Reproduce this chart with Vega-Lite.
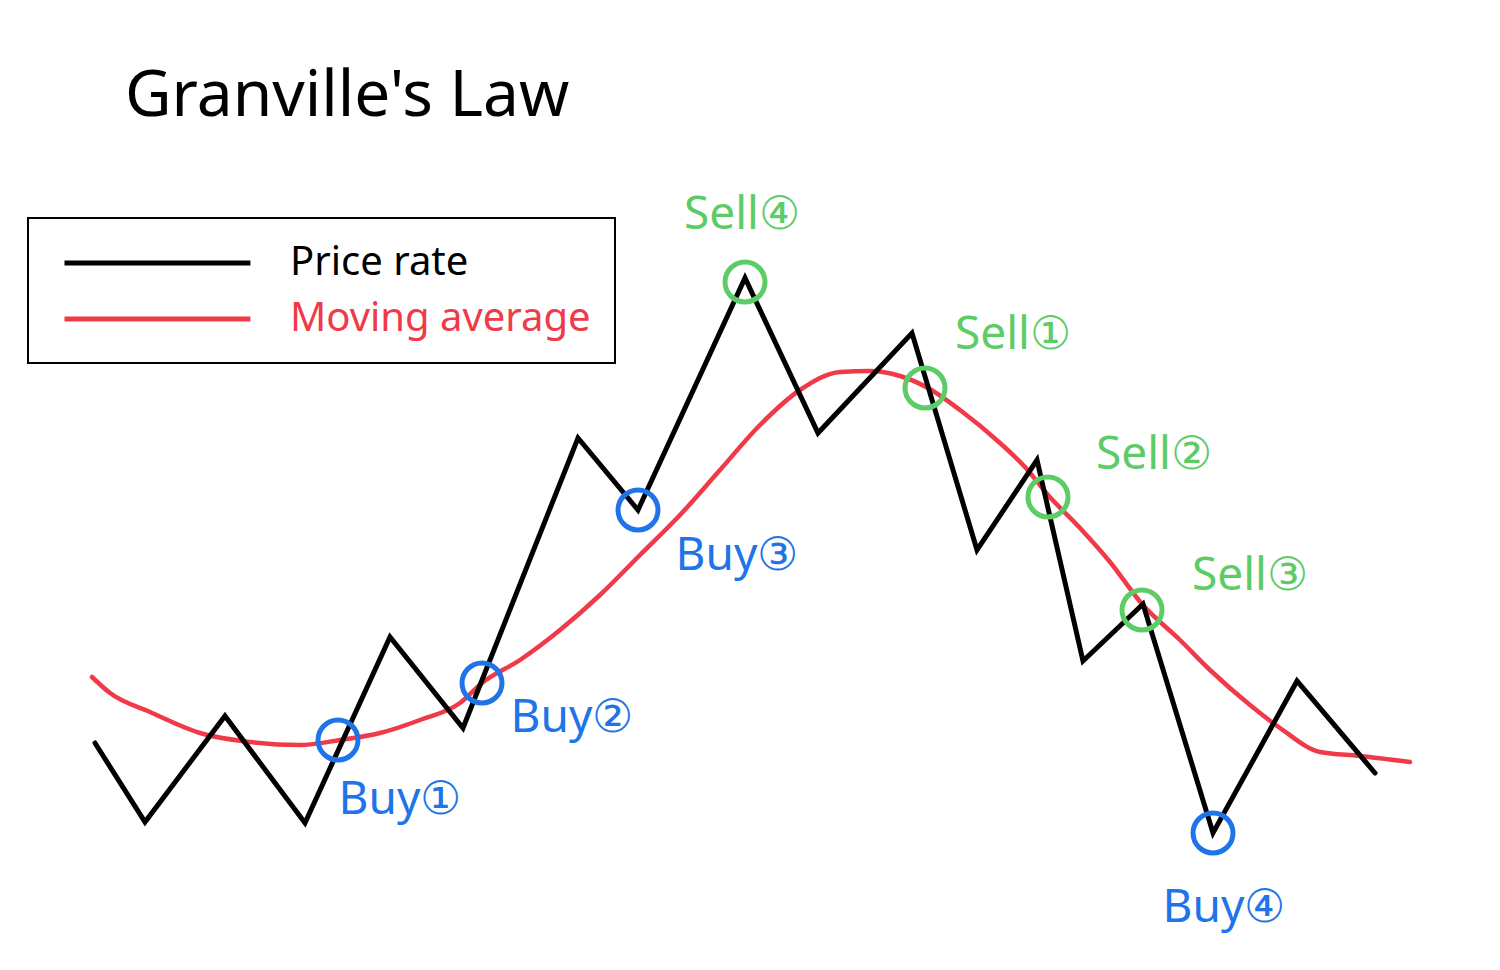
{
  "$schema": "https://vega.github.io/schema/vega-lite/v6.json",
  "width": 1500,
  "height": 970,
  "autosize": {"type": "fit", "contains": "padding"},
  "padding": 0,
  "background": "white",
  "config": {"view": {"stroke": null}},
  "datasets": {
    "price": [
      {"t": 95, "v": 227}, {"t": 145, "v": 148}, {"t": 225, "v": 254}, {"t": 305, "v": 147},
      {"t": 390, "v": 333}, {"t": 463, "v": 242}, {"t": 578, "v": 532}, {"t": 638, "v": 460},
      {"t": 745, "v": 692}, {"t": 818, "v": 537}, {"t": 912, "v": 637}, {"t": 977, "v": 420},
      {"t": 1037, "v": 510}, {"t": 1083, "v": 309}, {"t": 1143, "v": 366}, {"t": 1213, "v": 137},
      {"t": 1297, "v": 289}, {"t": 1375, "v": 197}
    ],
    "ma": [
      {"t": 92, "v": 293}, {"t": 110, "v": 277}, {"t": 150, "v": 258}, {"t": 200, "v": 237},
      {"t": 250, "v": 228}, {"t": 300, "v": 225}, {"t": 340, "v": 230}, {"t": 380, "v": 237},
      {"t": 420, "v": 250}, {"t": 460, "v": 267}, {"t": 482, "v": 287}, {"t": 520, "v": 310},
      {"t": 560, "v": 340}, {"t": 600, "v": 375}, {"t": 640, "v": 415}, {"t": 680, "v": 455},
      {"t": 720, "v": 500}, {"t": 760, "v": 545}, {"t": 800, "v": 580}, {"t": 840, "v": 598},
      {"t": 870, "v": 599}, {"t": 900, "v": 594}, {"t": 928, "v": 582}, {"t": 960, "v": 560},
      {"t": 1000, "v": 527}, {"t": 1025, "v": 503}, {"t": 1048, "v": 475}, {"t": 1080, "v": 442},
      {"t": 1110, "v": 408}, {"t": 1142, "v": 366}, {"t": 1180, "v": 330}, {"t": 1210, "v": 300},
      {"t": 1250, "v": 265}, {"t": 1280, "v": 242}, {"t": 1320, "v": 218}, {"t": 1360, "v": 214},
      {"t": 1410, "v": 208}
    ],
    "signals": [
      {"t": 338, "v": 230, "kind": "Buy", "label": "Buy①", "lt": 400, "lv": 170},
      {"t": 482, "v": 287, "kind": "Buy", "label": "Buy②", "lt": 572, "lv": 252},
      {"t": 638, "v": 460, "kind": "Buy", "label": "Buy③", "lt": 737, "lv": 414},
      {"t": 1213, "v": 137, "kind": "Buy", "label": "Buy④", "lt": 1224, "lv": 62},
      {"t": 745, "v": 688, "kind": "Sell", "label": "Sell④", "lt": 742, "lv": 755},
      {"t": 925, "v": 582, "kind": "Sell", "label": "Sell①", "lt": 1013, "lv": 635},
      {"t": 1048, "v": 473, "kind": "Sell", "label": "Sell②", "lt": 1154, "lv": 515},
      {"t": 1142, "v": 360, "kind": "Sell", "label": "Sell③", "lt": 1250, "lv": 394}
    ],
    "heading": [{"t": 125, "v": 873, "text": "Granville's Law"}]
  },
  "layer": [
    {
      "data": {"name": "ma"},
      "transform": [{"calculate": "'Moving average'", "as": "series"}],
      "mark": {"type": "line", "interpolate": "monotone", "strokeWidth": 4.5, "strokeCap": "round"},
      "encoding": {
        "x": {"field": "t", "type": "quantitative", "scale": {"domain": [0, 1500], "nice": false, "zero": false}, "axis": null},
        "y": {"field": "v", "type": "quantitative", "scale": {"domain": [0, 970], "nice": false, "zero": false}, "axis": null},
        "color": {
          "field": "series", "type": "nominal",
          "scale": {"domain": ["Price rate", "Moving average"], "range": ["#000000", "#f03a48"]},
          "legend": {
            "title": null,
            "orient": "none",
            "legendX": 28,
            "legendY": 218,
            "strokeColor": "#000000",
            "padding": 24,
            "symbolType": "M-0.46,0H9.59",
            "symbolSize": 1369,
            "symbolStrokeWidth": 5,
            "labelFontSize": 40,
            "labelFont": "Noto Sans",
            "labelOffset": 196,
            "labelLimit": 400,
            "rowPadding": 15,
            "labelColor": {"expr": "datum.label == 'Moving average' ? '#f03a48' : '#000000'"},
            "encode": {"legend": {"update": {"strokeWidth": {"value": 2}}}}
          }
        }
      }
    },
    {
      "data": {"name": "price"},
      "transform": [{"calculate": "'Price rate'", "as": "series"}],
      "mark": {"type": "line", "strokeWidth": 5, "strokeJoin": "miter", "strokeCap": "round"},
      "encoding": {
        "x": {"field": "t", "type": "quantitative"},
        "y": {"field": "v", "type": "quantitative"},
        "color": {"field": "series", "type": "nominal"}
      }
    },
    {
      "data": {"name": "signals"},
      "transform": [{"filter": "datum.kind == 'Buy'"}],
      "mark": {"type": "point", "shape": "circle", "filled": false, "stroke": "#1e74e8", "strokeWidth": 5, "size": 1600, "opacity": 1},
      "encoding": {
        "x": {"field": "t", "type": "quantitative"},
        "y": {"field": "v", "type": "quantitative"}
      }
    },
    {
      "data": {"name": "signals"},
      "transform": [{"filter": "datum.kind == 'Sell'"}],
      "mark": {"type": "point", "shape": "circle", "filled": false, "stroke": "#5ccc66", "strokeWidth": 5, "size": 1600, "opacity": 1},
      "encoding": {
        "x": {"field": "t", "type": "quantitative"},
        "y": {"field": "v", "type": "quantitative"}
      }
    },
    {
      "data": {"name": "signals"},
      "transform": [{"filter": "datum.kind == 'Buy'"}],
      "mark": {"type": "text", "fontSize": 46, "font": "Noto Sans", "color": "#1e74e8", "align": "center", "baseline": "middle"},
      "encoding": {
        "x": {"field": "lt", "type": "quantitative"},
        "y": {"field": "lv", "type": "quantitative"},
        "text": {"field": "label"}
      }
    },
    {
      "data": {"name": "signals"},
      "transform": [{"filter": "datum.kind == 'Sell'"}],
      "mark": {"type": "text", "fontSize": 46, "font": "Noto Sans", "color": "#5ccc66", "align": "center", "baseline": "middle"},
      "encoding": {
        "x": {"field": "lt", "type": "quantitative"},
        "y": {"field": "lv", "type": "quantitative"},
        "text": {"field": "label"}
      }
    },
    {
      "data": {"name": "heading"},
      "mark": {"type": "text", "fontSize": 64, "font": "Noto Sans", "color": "#000000", "align": "left", "baseline": "middle"},
      "encoding": {
        "x": {"field": "t", "type": "quantitative"},
        "y": {"field": "v", "type": "quantitative"},
        "text": {"field": "text"}
      }
    }
  ]
}
